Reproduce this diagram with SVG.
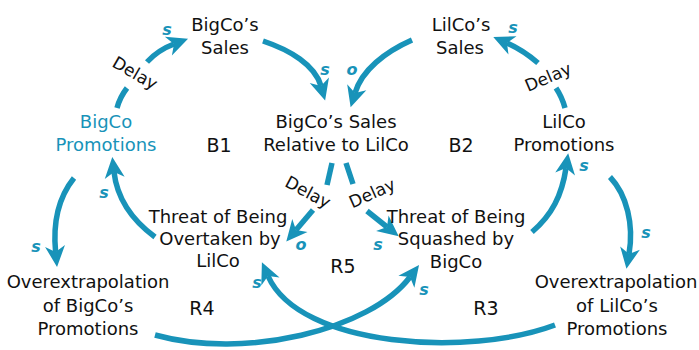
<svg xmlns="http://www.w3.org/2000/svg" width="699" height="350" viewBox="0 0 699 350">
  <style>
    .lbl { font-family: "DejaVu Sans", "Liberation Sans", sans-serif; font-size: 18px; fill: #111; text-anchor: middle; }
    .blue { fill: #1893b9; }
    .loop { font-family: "DejaVu Sans", "Liberation Sans", sans-serif; font-size: 19px; fill: #111; text-anchor: middle; }
    .delay { font-family: "DejaVu Sans", "Liberation Sans", sans-serif; font-size: 17px; fill: #111; text-anchor: middle; }
    .pol { font-family: "DejaVu Sans", "Liberation Sans", sans-serif; font-size: 16px; font-weight: bold; font-style: italic; fill: #1893b9; text-anchor: middle; }
    .link { fill: none; stroke: #1893b9; stroke-width: 5.5; stroke-linecap: butt; }
  </style>
  <defs>
    <marker id="ah" markerUnits="userSpaceOnUse" viewBox="-7 -11 24 22" refX="0" refY="0" markerWidth="24" markerHeight="22" orient="auto">
      <path d="M-6,-10 L15,0 L-6,10 L0,0 z" fill="#1893b9"/>
    </marker>
  </defs>

  <!-- causal links -->
  <g id="connectors">
    <!-- BigCo Promotions -> BigCo's Sales (delayed) -->
    <path class="link" d="M117,108 Q120,97 127,88"/>
    <path class="link" d="M147,62 Q158,50 174,44" marker-end="url(#ah)"/>
    <!-- BigCo's Sales -> Relative sales -->
    <path class="link" d="M263,41 C290,50 315,65 321,86" marker-end="url(#ah)"/>
    <!-- LilCo's Sales -> Relative sales -->
    <path class="link" d="M412,40 C385,52 362,70 355,93" marker-end="url(#ah)"/>
    <!-- LilCo Promotions -> LilCo's Sales (delayed) -->
    <path class="link" d="M565,108 Q562,97 556,88"/>
    <path class="link" d="M538,63 Q523,50 507,43" marker-end="url(#ah)"/>
    <!-- Threat of Being Overtaken -> BigCo Promotions -->
    <path class="link" d="M155,237 C132,220 117,198 114,172" marker-end="url(#ah)"/>
    <!-- BigCo Promotions -> Overextrapolation of BigCo's Promotions -->
    <path class="link" d="M74,178 C58,198 53,225 55.6,252" marker-end="url(#ah)"/>
    <!-- Relative sales -> Threat of Being Overtaken (delayed) -->
    <path class="link" d="M332,163 L327,185"/>
    <path class="link" d="M313,210 L296,230" marker-end="url(#ah)"/>
    <!-- Relative sales -> Threat of Being Squashed (delayed) -->
    <path class="link" d="M346,163 L353,184"/>
    <path class="link" d="M367,211 L387,227" marker-end="url(#ah)"/>
    <!-- Threat of Being Squashed -> LilCo Promotions -->
    <path class="link" d="M532,232 C552,215 562,195 566,168" marker-end="url(#ah)"/>
    <!-- LilCo Promotions -> Overextrapolation of LilCo's Promotions -->
    <path class="link" d="M610,177 C627,195 634,225 629,254" marker-end="url(#ah)"/>
    <!-- Overextrapolation of BigCo's Promotions -> Threat of Being Squashed -->
    <path class="link" d="M155,335 C245,360 370,330 410,277" marker-end="url(#ah)"/>
    <!-- Overextrapolation of LilCo's Promotions -> Threat of Being Overtaken -->
    <path class="link" d="M555,325 C470,357 300,348 268,276" marker-end="url(#ah)"/>
  </g>

  <!-- link polarities and delay marks -->
  <g id="link-labels">
    <text class="pol" x="167" y="35">s</text>
    <text class="pol" x="325" y="75">s</text>
    <text class="pol" x="352" y="75">o</text>
    <text class="pol" x="513" y="33">s</text>
    <text class="pol" x="584" y="171">s</text>
    <text class="pol" x="104" y="198">s</text>
    <text class="pol" x="36" y="252">s</text>
    <text class="pol" x="301" y="250">o</text>
    <text class="pol" x="378" y="250">s</text>
    <text class="pol" x="257" y="288">s</text>
    <text class="pol" x="424" y="295">s</text>
    <text class="pol" x="646" y="238">s</text>
    <text class="delay" transform="translate(135,73) rotate(30)" y="6">Delay</text>
    <text class="delay" transform="translate(548,77) rotate(-23)" y="6">Delay</text>
    <text class="delay" transform="translate(308,192) rotate(28)" y="6">Delay</text>
    <text class="delay" transform="translate(372,193) rotate(-24)" y="6">Delay</text>
  </g>

  <!-- loop identifiers -->
  <g id="loops">
    <text class="loop" x="219" y="152">B1</text>
    <text class="loop" x="461" y="152">B2</text>
    <text class="loop" x="202" y="315">R4</text>
    <text class="loop" x="343" y="273">R5</text>
    <text class="loop" x="486" y="315">R3</text>
  </g>

  <g id="bigco-sales">
    <text class="lbl" x="225" y="31">BigCo’s</text>
    <text class="lbl" x="225" y="54">Sales</text>
  </g>
  <g id="lilco-sales">
    <text class="lbl" x="461" y="31">LilCo’s</text>
    <text class="lbl" x="460" y="54">Sales</text>
  </g>
  <g id="relative-sales">
    <text class="lbl" x="336" y="128">BigCo’s Sales</text>
    <text class="lbl" x="336" y="151">Relative to LilCo</text>
  </g>
  <g id="bigco-promotions">
    <text class="lbl blue" x="106" y="128">BigCo</text>
    <text class="lbl blue" x="106" y="151">Promotions</text>
  </g>
  <g id="lilco-promotions">
    <text class="lbl" x="564" y="128">LilCo</text>
    <text class="lbl" x="564" y="151">Promotions</text>
  </g>
  <g id="threat-overtaken">
    <text class="lbl" x="218" y="223">Threat of Being</text>
    <text class="lbl" x="220" y="245">Overtaken by</text>
    <text class="lbl" x="218" y="267">LilCo</text>
  </g>
  <g id="threat-squashed">
    <text class="lbl" x="456" y="223">Threat of Being</text>
    <text class="lbl" x="456" y="245">Squashed by</text>
    <text class="lbl" x="456" y="268">BigCo</text>
  </g>
  <g id="overextrapolation-bigco">
    <text class="lbl" x="88" y="288">Overextrapolation</text>
    <text class="lbl" x="88" y="312">of BigCo’s</text>
    <text class="lbl" x="88" y="335">Promotions</text>
  </g>
  <g id="overextrapolation-lilco">
    <text class="lbl" x="616" y="288">Overextrapolation</text>
    <text class="lbl" x="617" y="312">of LilCo’s</text>
    <text class="lbl" x="617" y="335">Promotions</text>
  </g>
</svg>
